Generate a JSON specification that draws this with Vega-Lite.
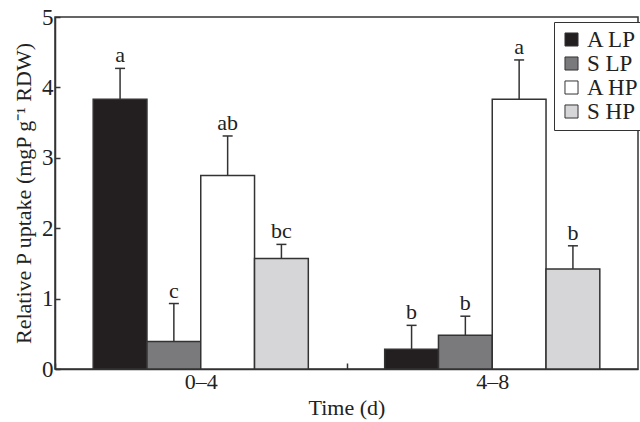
{
  "$schema": "https://vega.github.io/schema/vega-lite/v6.json",
  "width": 583,
  "height": 352,
  "autosize": "none",
  "padding": {"left": 55, "top": 17, "right": 2, "bottom": 53},
  "background": "white",
  "config": {
    "font": "Liberation Serif",
    "view": {"stroke": "#333333", "strokeWidth": 1.5},
    "axis": {
      "grid": false,
      "domainColor": "#333333",
      "domainWidth": 1.5,
      "tickColor": "#333333",
      "tickWidth": 1.5,
      "labelFont": "Liberation Serif",
      "labelColor": "#222222",
      "titleFont": "Liberation Serif",
      "titleColor": "#222222",
      "titleFontWeight": "normal"
    }
  },
  "data": {
    "values": [
      {"time": "0–4", "trt": "A LP", "value": 3.83, "upper": 4.27, "letter": "a"},
      {"time": "0–4", "trt": "S LP", "value": 0.39, "upper": 0.93, "letter": "c"},
      {"time": "0–4", "trt": "A HP", "value": 2.75, "upper": 3.31, "letter": "ab"},
      {"time": "0–4", "trt": "S HP", "value": 1.57, "upper": 1.77, "letter": "bc"},
      {"time": "4–8", "trt": "A LP", "value": 0.28, "upper": 0.62, "letter": "b"},
      {"time": "4–8", "trt": "S LP", "value": 0.48, "upper": 0.75, "letter": "b"},
      {"time": "4–8", "trt": "A HP", "value": 3.83, "upper": 4.39, "letter": "a"},
      {"time": "4–8", "trt": "S HP", "value": 1.42, "upper": 1.75, "letter": "b"}
    ]
  },
  "encoding": {
    "x": {
      "field": "time",
      "type": "nominal",
      "sort": ["0–4", "4–8"],
      "scale": {"paddingInner": 0.262, "paddingOuter": 0.131},
      "title": "Time (d)",
      "axis": {
        "labelAngle": 0,
        "labelFontSize": 22,
        "titleFontSize": 22,
        "tickSize": -6,
        "tickOffset": -145.75,
        "labelOffset": 145.75,
        "labelPadding": 8,
        "titlePadding": 5
      }
    },
    "xOffset": {
      "field": "trt",
      "type": "nominal",
      "sort": ["A LP", "S LP", "A HP", "S HP"],
      "scale": {"paddingInner": 0, "paddingOuter": 0}
    }
  },
  "layer": [
    {
      "mark": {"type": "bar", "stroke": "#333333", "strokeWidth": 1.5},
      "encoding": {
        "y": {
          "field": "value",
          "type": "quantitative",
          "scale": {"domain": [0, 5], "nice": false},
          "title": "Relative P uptake (mgP g⁻¹ RDW)",
          "axis": {
            "values": [0, 1, 2, 3, 4, 5],
            "format": "d",
            "labelFontSize": 23,
            "titleFontSize": 22,
            "tickSize": -5,
            "labelPadding": 7,
            "titlePadding": 6
          }
        },
        "fill": {
          "field": "trt",
          "type": "nominal",
          "sort": ["A LP", "S LP", "A HP", "S HP"],
          "scale": {
            "domain": ["A LP", "S LP", "A HP", "S HP"],
            "range": ["#231f20", "#7a7a7c", "#ffffff", "#d6d6d8"]
          },
          "legend": {
            "orient": "none",
            "legendX": 499,
            "legendY": 5,
            "title": null,
            "strokeColor": "#333333",
            "fillColor": "white",
            "padding": 6,
            "symbolType": "square",
            "symbolSize": 170,
            "symbolStrokeColor": "#333333",
            "symbolStrokeWidth": 1,
            "labelFontSize": 23,
            "labelFont": "Liberation Serif",
            "labelColor": "#222222",
            "rowPadding": 0,
            "labelOffset": 4
          }
        }
      }
    },
    {
      "mark": {"type": "rule", "color": "#333333", "strokeWidth": 1.5},
      "encoding": {
        "y": {"field": "value", "type": "quantitative"},
        "y2": {"field": "upper"}
      }
    },
    {
      "mark": {"type": "point", "shape": "M-1,0L1,0", "size": 100, "filled": false, "stroke": "#333333", "strokeWidth": 1.5, "opacity": 1},
      "encoding": {
        "y": {"field": "upper", "type": "quantitative"}
      }
    },
    {
      "mark": {"type": "text", "dy": -6, "baseline": "alphabetic", "fontSize": 22, "font": "Liberation Serif", "color": "#222222"},
      "encoding": {
        "y": {"field": "upper", "type": "quantitative"},
        "text": {"field": "letter"}
      }
    }
  ]
}
